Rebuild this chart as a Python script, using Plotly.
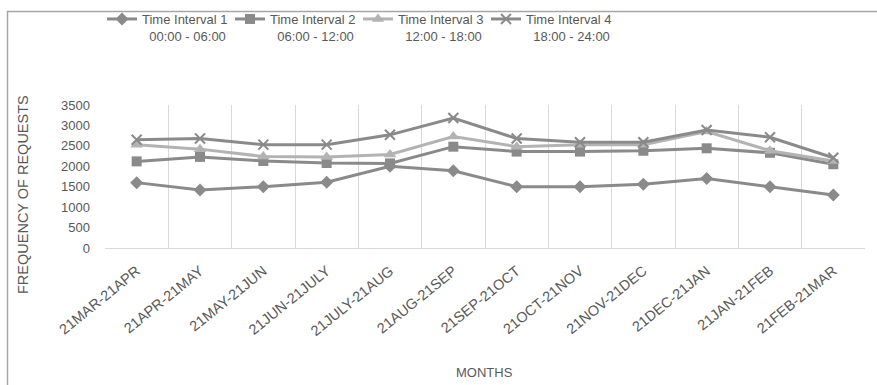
import plotly.graph_objects as go

categories = ["21MAR-21APR", "21APR-21MAY", "21MAY-21JUN", "21JUN-21JULY", "21JULY-21AUG",
              "21AUG-21SEP", "21SEP-21OCT", "21OCT-21NOV", "21NOV-21DEC", "21DEC-21JAN",
              "21JAN-21FEB", "21FEB-21MAR"]

interval1 = [1600, 1420, 1500, 1610, 2000, 1890, 1500, 1500, 1560, 1700, 1500, 1300]
interval2 = [2120, 2230, 2130, 2080, 2070, 2480, 2360, 2360, 2380, 2440, 2330, 2050]
interval3 = [2530, 2420, 2240, 2230, 2290, 2730, 2480, 2530, 2530, 2850, 2380, 2130]
interval4 = [2650, 2680, 2530, 2530, 2770, 3180, 2680, 2590, 2590, 2890, 2710, 2210]

NB = "&nbsp;&nbsp;"
series_names = ["Time Interval 1<br>" + NB + "00:00 - 06:00",
                "Time Interval 2<br>" + NB + "06:00 - 12:00",
                "Time Interval 3<br>" + NB + "12:00 - 18:00",
                "Time Interval 4<br>" + NB + "18:00 - 24:00"]
y_ticks = [0, 500, 1000, 1500, 2000, 2500, 3000, 3500]

FONT = "Liberation Sans"
W, H = 877, 385
L, R, T, B = 105, 12, 105, 137
PW, PH = W - L - R, H - T - B


def px_x(p):
    return (p - L) / PW


def px_y(p):
    return (H - B - p) / PH


styles = [
    dict(color="#8a8a8a", symbol="diamond", size=10, lw=0),
    dict(color="#8a8a8a", symbol="square", size=10, lw=0),
    dict(color="#b3b3b3", symbol="triangle-up", size=11, lw=0),
    dict(color="#8a8a8a", symbol="x-thin", size=10, lw=2),
]

fig = go.Figure()
for name, vals, st in zip(series_names, [interval1, interval2, interval3, interval4], styles):
    fig.add_trace(go.Scatter(
        x=categories, y=vals, name=name, mode="lines+markers",
        line=dict(color=st["color"], width=3),
        marker=dict(symbol=st["symbol"], size=st["size"], color=st["color"],
                    line=dict(color=st["color"], width=st["lw"])),
    ))

fig.update_layout(
    width=W, height=H,
    margin=dict(l=L, r=R, t=T, b=B, autoexpand=False),
    paper_bgcolor="white", plot_bgcolor="white",
    font=dict(family=FONT, color="#595959", size=13),
    showlegend=True,
    legend=dict(orientation="h", x=px_x(102), y=px_y(4), xanchor="left", yanchor="top",
                valign="top", font=dict(size=13, color="#595959"),
                entrywidth=83, entrywidthmode="pixels", itemwidth=30,
                bgcolor="rgba(0,0,0,0)", tracegroupgap=0),
    xaxis=dict(type="category", range=[-0.5, len(categories) - 0.5], tickson="boundaries",
               showgrid=True, gridcolor="#d9d9d9",
               gridwidth=1, showline=True, linecolor="#d9d9d9", linewidth=1, ticks="",
               tickangle=-39, tickfont=dict(size=14.5, color="#595959"),
               ticklabelstandoff=8, zeroline=False, automargin=False),
    yaxis=dict(range=[0, 3500], tickvals=y_ticks, showgrid=False, zeroline=False,
               showline=False, ticks="", tickfont=dict(size=13, color="#595959"),
               ticklabelstandoff=14, automargin=False),
    shapes=[dict(type="rect", xref="paper", yref="paper",
                 x0=px_x(7.5), x1=px_x(W + 20), y0=px_y(H + 20), y1=px_y(11.5),
                 line=dict(color="#a6a6a6", width=1.5), fillcolor="rgba(0,0,0,0)", layer="below")],
    annotations=[
        dict(text="FREQUENCY OF REQUESTS", xref="paper", yref="paper", x=px_x(23), y=px_y(195),
             textangle=-90, showarrow=False, xanchor="center", yanchor="middle",
             font=dict(size=14.5, color="#595959")),
        dict(text="MONTHS", xref="paper", yref="paper", x=px_x(484), y=px_y(372),
             showarrow=False, xanchor="center", yanchor="middle",
             font=dict(size=13, color="#595959")),
    ],
)

fig.write_html("out.html", config={"displayModeBar": False},
               post_script="document.body.style.margin='0px';")
